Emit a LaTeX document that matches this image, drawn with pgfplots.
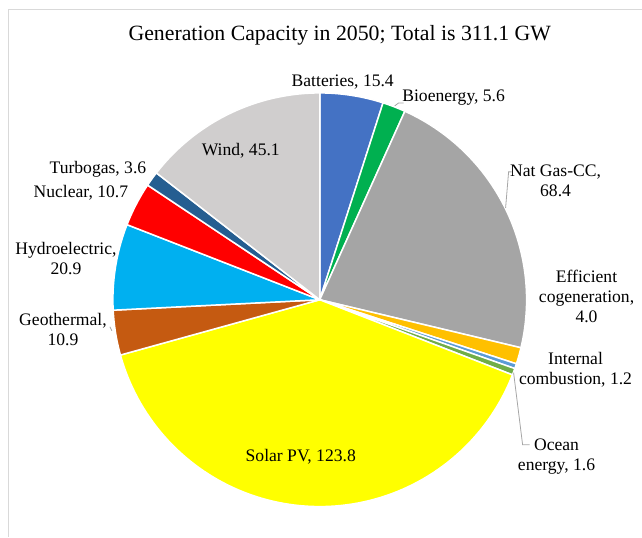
\documentclass[border=0pt]{standalone}
\usepackage{pgfplots}
\pgfplotsset{compat=1.18}
\usepackage{fontspec}
\setmainfont{Liberation Serif}
\definecolor{cBat}{HTML}{4472C4}
\definecolor{cBio}{HTML}{00B050}
\definecolor{cGas}{HTML}{A5A5A5}
\definecolor{cCog}{HTML}{FFC000}
\definecolor{cInt}{HTML}{5B9BD5}
\definecolor{cOce}{HTML}{70AD47}
\definecolor{cSol}{HTML}{FFFF00}
\definecolor{cGeo}{HTML}{C55A11}
\definecolor{cHyd}{HTML}{00B0F0}
\definecolor{cNuc}{HTML}{FF0000}
\definecolor{cTur}{HTML}{255E91}
\definecolor{cWin}{HTML}{D0CECE}
\definecolor{cLead}{HTML}{A6A6A6}
\definecolor{cFrame}{HTML}{D9D9D9}
\newcommand\cum{0}
\pgfmathsetmacro\total{15.4+5.6+68.4+4.0+1.2+1.6+123.8+10.9+20.9+10.7+3.6+45.1}
\newcommand\slice[2]{%
  \pgfmathsetmacro\aS{90-\cum/\total*360}%
  \pgfmathsetmacro\cumN{\cum+#1}%
  \xdef\cum{\cumN}%
  \pgfmathsetmacro\aE{90-\cum/\total*360}%
  \edef\doit{\noexpand\addplot[fill=#2, draw=white, line width=1.5pt, line join=round, domain=\aE:\aS, samples=90, variable=\noexpand\t] ({320+207*cos(\noexpand\t)},{237+207*sin(\noexpand\t)}) -- (320,237) -- cycle;}%
  \doit}
\tikzset{lb/.style={font=\fontsize{17.6}{20}\selectfont, inner sep=0pt}}
\begin{document}
\begin{tikzpicture}
\begin{axis}[width=642pt, height=537pt, scale only axis, xmin=0, xmax=642, ymin=0, ymax=537, hide axis, clip=false]
\path (0,0) rectangle (642,537);
\addplot[cFrame, line width=1pt] coordinates {(9,0) (9,527) (642,527)};
\slice{15.4}{cBat}
\slice{5.6}{cBio}
\slice{68.4}{cGas}
\slice{4.0}{cCog}
\slice{1.2}{cInt}
\slice{1.6}{cOce}
\slice{123.8}{cSol}
\slice{10.9}{cGeo}
\slice{20.9}{cHyd}
\slice{10.7}{cNuc}
\slice{3.6}{cTur}
\slice{45.1}{cWin}
% leader lines
\addplot[cLead, line width=0.8pt] coordinates {(395,431) (399,434) (404,434)};
\addplot[cLead, line width=0.8pt] coordinates {(506,329) (509,365) (512,365)};
\addplot[cLead, line width=0.8pt] coordinates {(514,164) (523,92) (530,92)};
\addplot[cLead, line width=0.8pt] coordinates {(112,206) (110,210)};
% texts
\node[font=\fontsize{21.8}{24}\selectfont] at (340,502) {Generation Capacity in 2050; Total is 311.1 GW};
\node[lb] at (343,455) {Batteries, 15.4};
\node[lb] at (454,439) {Bioenergy, 5.6};
\node[lb, align=center] at (556,356) {Nat Gas-CC,\\68.4};
\node[lb, align=center] at (587,240) {Efficient\\cogeneration,\\4.0};
\node[lb, align=center] at (576,167) {Internal\\combustion, 1.2};
\node[lb, align=center] at (557,80) {Ocean\\energy, 1.6};
\node[lb] at (301,80) {Solar PV, 123.8};
\node[lb, align=center] at (63,207) {Geothermal,\\10.9};
\node[lb, align=center] at (66,278) {Hydroelectric,\\20.9};
\node[lb] at (81,344) {Nuclear, 10.7};
\node[lb] at (98,368) {Turbogas, 3.6};
\node[lb] at (241,386) {Wind, 45.1};
\end{axis}
\end{tikzpicture}
\end{document}
